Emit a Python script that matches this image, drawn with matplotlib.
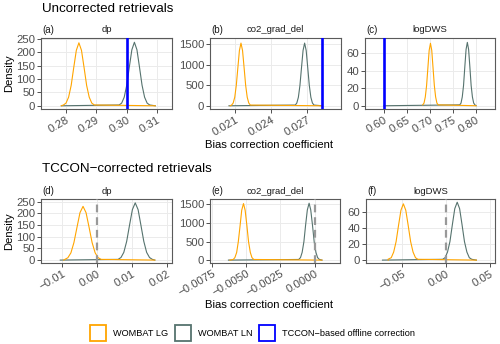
import matplotlib
matplotlib.use("Agg")
import matplotlib.pyplot as plt
from matplotlib.patches import Rectangle

plt.rcParams['font.family'] = ['Liberation Sans', 'DejaVu Sans']

W, H = 500, 344
ORANGE = "#FFA500"
GREEN = "#56736E"
BLUE = "#0000FF"
GREY = "#999999"

panel_titles = ["dp", "co2_grad_del", "logDWS", "dp", "co2_grad_del", "logDWS"]
panel_tags = ["(a)", "(b)", "(c)", "(d)", "(e)", "(f)"]
row_titles = ["Uncorrected retrievals", "TCCON\u2212corrected retrievals"]
legend_labels = ["WOMBAT LG", "WOMBAT LN", "TCCON\u2212based offline correction"]

# ---- density curves (x, density) ----
# (a) dp, uncorrected
a_lg_x = [0.2785, 0.2792, 0.28005, 0.2809, 0.28175, 0.2826, 0.28345, 0.2843, 0.28515, 0.2860, 0.28685, 0.2877, 0.28855, 0.2894, 0.3095]
a_lg_y = [0, 3, 10, 32, 76, 143, 207, 235, 207, 143, 76, 32, 10, 3, 0]
a_ln_x = [0.2785, 0.29756, 0.2984, 0.29924, 0.30008, 0.30092, 0.30176, 0.3026, 0.30344, 0.30428, 0.30512, 0.30596, 0.3068, 0.30764, 0.3095]
a_ln_y = [0, 3, 10, 32, 77, 144, 209, 237, 209, 144, 77, 32, 10, 3, 0]
a_offline = 0.300

# (b) co2_grad_del, uncorrected
b_lg_x = [0.0206, 0.02072, 0.02085, 0.02098, 0.02111, 0.02124, 0.02137, 0.0215, 0.02163, 0.02176, 0.02189, 0.02202, 0.02215, 0.02228, 0.02825]
b_lg_y = [0, 17, 67, 207, 497, 929, 1349, 1530, 1349, 929, 497, 207, 67, 17, 0]
b_ln_x = [0.0205, 0.02602, 0.02615, 0.02628, 0.02641, 0.02654, 0.02667, 0.0268, 0.02693, 0.02706, 0.02719, 0.02732, 0.02745, 0.02758, 0.02825]
b_ln_y = [0, 17, 67, 207, 497, 929, 1349, 1530, 1349, 929, 497, 207, 67, 17, 0]
b_offline = 0.02825

# (c) logDWS, uncorrected
c_lg_x = [0.6842, 0.687, 0.6898, 0.6926, 0.6954, 0.6982, 0.701, 0.7038, 0.7066, 0.7094, 0.7122, 0.715, 0.7178, 0.80]
c_lg_y = [1, 3, 10, 23, 43, 63, 71, 63, 43, 23, 10, 3, 1, 0]
c_ln_x = [0.60, 0.7645, 0.76725, 0.77, 0.77275, 0.7755, 0.77825, 0.781, 0.78375, 0.7865, 0.78925, 0.792, 0.79475, 0.7975, 0.80]
c_ln_y = [0, 1, 3, 10, 23, 44, 64, 72, 64, 44, 23, 10, 3, 1, 0]
c_offline = 0.60

# (d) dp, corrected
d_lg_x = [-0.0095, -0.00919, -0.00833, -0.00746, -0.0066, -0.00573, -0.00487, -0.0040, -0.00314, -0.00227, -0.00141, -0.00054, 0.00033, 0.00119, 0.0165]
d_lg_y = [0, 3, 10, 31, 75, 140, 203, 230, 203, 140, 75, 31, 10, 3, 0]
d_ln_x = [-0.0105, 0.00601, 0.00683, 0.00764, 0.00846, 0.00927, 0.01009, 0.0109, 0.01172, 0.01253, 0.01335, 0.01416, 0.01498, 0.01579, 0.0165]
d_ln_y = [0, 3, 11, 33, 80, 149, 216, 245, 216, 149, 80, 33, 11, 3, 0]

# (e) co2_grad_del, corrected
e_lg_x = [-0.0062, -0.00595, -0.00583, -0.0057, -0.00558, -0.00545, -0.00533, -0.0052, -0.00508, -0.00495, -0.00483, -0.0047, -0.00458, -0.00445, 0.00054]
e_lg_y = [0, 17, 67, 205, 494, 923, 1341, 1520, 1341, 923, 494, 205, 67, 17, 0]
e_ln_x = [-0.0063, -0.00116, -0.00103, -0.00091, -0.00078, -0.00066, -0.00053, -0.0004, -0.00028, -0.00015, -0.00003, 0.0001, 0.00022, 0.00035, 0.00054]
e_ln_y = [0, 17, 67, 207, 497, 929, 1349, 1530, 1349, 929, 497, 207, 67, 17, 0]

# (f) logDWS, corrected
f_lg_x = [-0.0655, -0.0658, -0.06205, -0.0593, -0.05655, -0.0538, -0.05105, -0.0483, -0.04555, -0.0428, -0.04005, -0.0373, -0.03455, -0.0318, 0.0346]
f_lg_y = [0, 1, 3, 10, 23, 43, 62, 70, 62, 43, 23, 10, 3, 1, 0]
f_ln_x = [-0.072, -0.0037, -0.00095, 0.0018, 0.00455, 0.0073, 0.01005, 0.0128, 0.01555, 0.0183, 0.02105, 0.0238, 0.02655, 0.0293, 0.0346]
f_ln_y = [0, 1, 3, 10, 23, 44, 64, 72, 64, 44, 23, 10, 3, 1, 0]

zero_ref = 0.0

# ---- axes ticks ----
xticks = [
    [0.28, 0.29, 0.30, 0.31],
    [0.021, 0.024, 0.027],
    [0.60, 0.65, 0.70, 0.75, 0.80],
    [-0.01, 0.00, 0.01, 0.02],
    [-0.0075, -0.0050, -0.0025, 0.0000],
    [-0.05, 0.00, 0.05],
]
xfmt = ["{:.2f}", "{:.3f}", "{:.2f}", "{:.2f}", "{:.4f}", "{:.2f}"]
yticks = [
    [0, 50, 100, 150, 200, 250],
    [0, 500, 1000, 1500],
    [0, 20, 40, 60],
    [0, 50, 100, 150, 200, 250],
    [0, 500, 1000, 1500],
    [0, 20, 40, 60],
]
xlims = [(0.2718, 0.3150), (0.01892, 0.02983), (0.559, 0.841),
         (-0.0160, 0.0214), (-0.00765, 0.00186), (-0.0907, 0.0557)]
ylims = [(-12, 253), (-79, 1654), (-3.7, 77), (-12.5, 261.5), (-78, 1643), (-3.6, 76)]

boxes = [(41, 38, 172, 109), (210, 38, 341, 109), (365, 38, 495, 109),
         (41, 199, 172, 263), (210, 199, 340, 263), (366, 199, 495, 263)]

curves = [
    (a_lg_x, a_lg_y, a_ln_x, a_ln_y, ("offline", a_offline)),
    (b_lg_x, b_lg_y, b_ln_x, b_ln_y, ("offline", b_offline)),
    (c_lg_x, c_lg_y, c_ln_x, c_ln_y, ("offline", c_offline)),
    (d_lg_x, d_lg_y, d_ln_x, d_ln_y, ("zero", zero_ref)),
    (e_lg_x, e_lg_y, e_ln_x, e_ln_y, ("zero", zero_ref)),
    (f_lg_x, f_lg_y, f_ln_x, f_ln_y, ("zero", zero_ref)),
]

fig = plt.figure(figsize=(W / 100, H / 100), dpi=100)


def fx(px):
    return px / W


def fy(py):
    return 1 - py / H


for i, (x0, y0, x1, y1) in enumerate(boxes):
    ax = fig.add_axes([fx(x0), fy(y1), (x1 - x0) / W, (y1 - y0) / H])
    lgx, lgy, lnx, lny, (kind, ref) = curves[i]
    ax.plot(lnx, lny, color=GREEN, lw=0.8, zorder=3)
    ax.plot(lgx, lgy, color=ORANGE, lw=0.8, zorder=4)
    if kind == "offline":
        ax.axvline(ref, color=BLUE, lw=1.9, zorder=5)
    else:
        ax.axvline(ref, color=GREY, lw=1.6, ls=(0, (3.5, 2.2)), zorder=5)
    ax.set_xlim(*xlims[i])
    ax.set_ylim(*ylims[i])
    ax.set_xticks(xticks[i])
    ax.set_xticklabels([xfmt[i].format(v).replace("-", "\u2212") for v in xticks[i]],
                       rotation=30, ha="right", va="top", rotation_mode="anchor")
    ax.set_yticks(yticks[i])
    ax.set_yticklabels([str(v) for v in yticks[i]])
    ax.tick_params(axis="both", labelsize=8.2, colors="#333333", labelcolor="#4D4D4D",
                   length=2.6, width=0.6, pad=1.5)
    ax.grid(True, color="#EBEBEB", lw=0.7, zorder=0)
    ax.set_axisbelow(True)
    for s in ax.spines.values():
        s.set_color("#5A5A5A")
        s.set_linewidth(0.8)
    ax.set_facecolor("white")
    fig.text(fx(x0 + 1), fy(y0 - 8), panel_tags[i], fontsize=7, ha="left", va="center", color="#1A1A1A")
    fig.text(fx((x0 + x1) / 2), fy(y0 - 8), panel_titles[i], fontsize=6.8, ha="center", va="center", color="#1A1A1A")

# row titles
fig.text(fx(42), fy(8.5), row_titles[0], fontsize=9.6, ha="left", va="center")
fig.text(fx(42), fy(168.5), row_titles[1], fontsize=9.6, ha="left", va="center")

# axis titles
for yc in [(38 + 109) / 2, (199 + 263) / 2]:
    fig.text(fx(9.5), fy(yc), "Density", fontsize=8.1, rotation=90, ha="center", va="center")
for yc in [145.5, 305.5]:
    fig.text(fx(269), fy(yc), "Bias correction coefficient", fontsize=8.1, ha="center", va="center")

# legend
leg_colors = [ORANGE, GREEN, BLUE]
leg_box_x = [90, 175, 259]
for col, bx, lab in zip(leg_colors, leg_box_x, legend_labels):
    fig.add_artist(Rectangle((fx(bx), fy(341)), 16 / W, 16 / H, transform=fig.transFigure,
                             facecolor="white", edgecolor=col, lw=1.3))
    fig.text(fx(bx + 23), fy(333), lab, fontsize=6.6, ha="left", va="center")

fig.savefig("out.png", dpi=100)
